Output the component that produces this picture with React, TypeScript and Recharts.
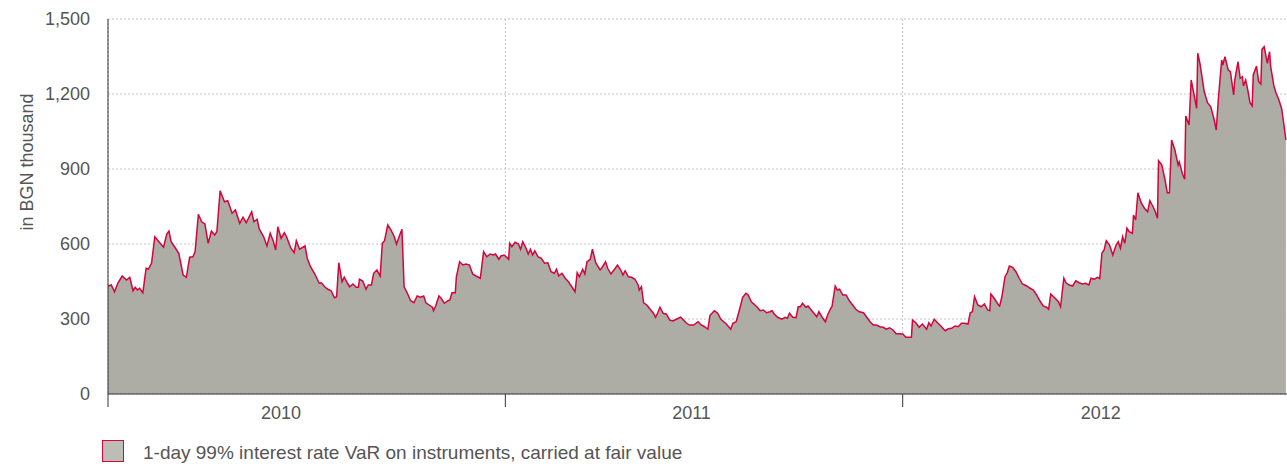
import { Area, AreaChart, CartesianGrid, Label, XAxis, YAxis } from "recharts";

// day offsets from 1 Jan 2010
const days = [
  0, 3, 6, 9, 13, 17, 20, 23, 25, 27, 29, 32, 35, 37, 40, 43, 46, 51, 54, 56, 58, 62, 65, 69, 72, 75, 78, 80,
  83, 86, 89, 92, 95, 98, 100, 103, 107, 110, 114, 117, 121, 124, 127, 129, 132, 134, 137, 139, 143, 146, 149,
  152, 154, 156, 159, 162, 164, 168, 171, 173, 176,
  179, 181, 183, 186, 190, 194, 196, 199, 202, 205, 208, 210, 212, 215, 217, 220, 222, 225, 228, 230, 231, 234,
  237, 239, 242, 244, 247, 250, 252, 254, 257, 260, 263, 265, 268, 270, 272, 275, 278, 281, 284, 287, 290, 292,
  295, 298, 299, 301, 304, 306, 309, 312, 314, 316, 319, 320, 323, 326, 329, 332, 335, 338, 342, 345, 348, 351,
  354, 356, 359, 361, 364, 368, 369,
  371, 374, 377, 379, 381, 384, 386, 388, 390, 392, 395, 398, 401, 404, 407, 410, 412, 414, 417, 420, 423, 426,
  429, 431, 433, 436, 438, 440, 443, 445, 448, 452, 454, 457, 459, 462, 466, 468, 471, 473, 475, 478, 481, 484,
  487, 488, 490, 492, 495, 498, 501, 503, 505, 507, 510, 513, 516, 519, 522, 526, 528, 531, 534, 538, 542, 545,
  548, 551,
  553, 557, 560, 563, 568, 572, 574, 577, 580, 583, 586, 588, 591, 596, 599, 602, 605, 608, 610, 612, 615, 619,
  622, 624, 626, 629, 632, 634, 636, 638, 641, 643, 646, 649, 651, 653, 656, 659, 661, 664, 665, 668, 670, 672,
  675, 678, 681, 684, 687, 690, 694, 697, 700, 703, 706, 709, 712, 715, 718, 721, 724, 727, 730, 733, 736,
  738, 739, 742, 745, 748, 752, 754, 756, 759, 762, 765, 769, 772, 775, 778, 781, 784, 787, 790, 792, 794, 796,
  799, 802, 805, 808, 810, 811, 814, 818, 819, 821, 824, 826, 828, 831, 834, 837, 840, 844, 847, 850, 853, 856,
  859, 862, 864, 866, 870, 873, 875, 878, 880, 883, 886, 889, 892, 895, 898, 901, 903, 906, 909,
  911, 913, 915, 917, 920, 923, 926, 928, 930, 932, 934, 936, 938, 941, 942, 944, 946, 949, 952, 955, 957, 960,
  962, 964, 965, 968, 971, 973, 975, 977, 980, 983, 984, 987, 989, 990, 993, 995, 998, 1000, 1001, 1003, 1007,
  1010, 1013, 1016, 1018, 1020, 1023, 1024, 1026, 1029, 1031, 1034, 1035, 1038, 1040, 1042, 1043, 1045, 1047,
  1049, 1051, 1052, 1055, 1057, 1059, 1060, 1062, 1065, 1067, 1068, 1071, 1073, 1075, 1078, 1080, 1082,
];

// 1-day 99% interest rate VaR, BGN thousand
const varValues = [
  432, 436, 409, 443, 472, 456, 467, 413, 427, 416, 423, 405, 503, 499, 523, 629, 613, 587, 640, 652, 609, 583,
  563, 476, 467, 547, 549, 569, 719, 689, 680, 603, 652, 636, 649, 813, 769, 773, 723, 736, 683, 707, 685, 703,
  729, 689, 699, 659, 629, 592, 643, 609, 576, 669, 623, 645, 629, 583, 565, 613, 579,
  587, 592, 543, 509, 480, 443, 445, 429, 419, 413, 385, 389, 525, 449, 467, 443, 429, 440, 427, 427, 459, 452,
  419, 436, 436, 483, 496, 472, 603, 613, 676, 656, 629, 600, 636, 659, 429, 403, 373, 365, 392, 387, 392, 365,
  356, 347, 333, 352, 392, 383, 363, 372, 376, 405, 405, 469, 529, 516, 520, 516, 480, 472, 463, 569, 549, 560,
  556, 560, 539, 552, 556, 539, 603,
  589, 607, 600, 579, 609, 583, 560, 579, 556, 573, 549, 543, 523, 525, 489, 483, 499, 472, 483, 463, 449, 429,
  409, 485, 469, 499, 480, 529, 539, 579, 525, 496, 507, 529, 503, 480, 503, 516, 496, 476, 493, 469, 467, 459,
  436, 416, 429, 365, 356, 339, 323, 307, 325, 347, 323, 319, 296, 292, 299, 307, 299, 285, 276, 276, 289, 276,
  269, 259,
  315, 333, 323, 299, 280, 259, 283, 289, 336, 387, 403, 396, 369, 349, 333, 336, 325, 329, 333, 320, 307, 299,
  307, 303, 323, 307, 305, 349, 349, 363, 347, 352, 336, 320, 309, 329, 307, 289, 316, 343, 349, 432, 416, 419,
  396, 396, 373, 356, 339, 329, 325, 307, 289, 276, 276, 269, 267, 259, 265, 256, 241, 241, 240, 227, 227,
  227, 296, 285, 267, 280, 259, 285, 272, 299, 285, 272, 253, 261, 263, 272, 269, 283, 283, 280, 325, 329, 389,
  356, 349, 360, 336, 333, 400, 383, 356, 352, 387, 469, 485, 512, 507, 489, 463, 440, 432, 423, 416, 396, 373,
  352, 347, 339, 400, 383, 369, 349, 463, 445, 436, 432, 453, 445, 440, 443, 436, 463, 459, 467,
  462, 563, 576, 613, 596, 556, 596, 609, 583, 629, 603, 663, 649, 643, 716, 696, 805, 765, 743, 729, 773, 749,
  729, 703, 933, 916, 856, 805, 805, 1016, 976, 916, 929, 880, 859, 1112, 1076, 1256, 1189, 1143, 1363, 1323, 1209,
  1165, 1149, 1099, 1056, 1183, 1336, 1316, 1349, 1296, 1289, 1196, 1256, 1329, 1263, 1269, 1232, 1256, 1216,
  1165, 1152, 1276, 1312, 1249, 1240, 1379, 1389, 1323, 1369, 1309, 1232, 1203, 1183, 1143, 1083, 1016,
];

const yearStarts = [0, 365, 730];
const yearLabels = ["2010", "2011", "2012"];
const yearLabelDays = [159, 536, 912];
const yTicks = [0, 300, 600, 900, 1200, 1500];

const rows = days.map((d, i) => ({ day: d, value: varValues[i] }));

const FONT = '"Liberation Sans", Arial, sans-serif';
const TEXT = "#555";
const AXIS = "#333";
const RED = "#d4043c";
const FILL = "#adada6";

function YearTick(props: any) {
  const { x, y, payload } = props;
  const li = yearLabelDays.indexOf(payload.value);
  if (li >= 0) {
    return (
      <text x={x} y={y + 25} textAnchor="middle" fontSize={18} fill={TEXT} fontFamily={FONT}>
        {yearLabels[li]}
      </text>
    );
  }
  return <line x1={x} y1={y} x2={x} y2={y + 13} stroke={AXIS} strokeWidth={1} />;
}

export default function App() {
  return (
    <div
      style={{
        position: "absolute",
        left: 0,
        top: 0,
        width: 1287,
        height: 467,
        background: "#fff",
        fontFamily: FONT,
      }}
    >
      <AreaChart width={1287} height={440} data={rows} margin={{ top: 19, right: 0, bottom: 0, left: 0 }}>
        <CartesianGrid
          stroke="#c4c4c4"
          strokeDasharray="2 2"
          verticalValues={yearStarts}
        />
        <XAxis
          dataKey="day"
          type="number"
          domain={[0, 1083]}
          ticks={[...yearStarts, ...yearLabelDays].sort((a, b) => a - b)}
          interval={0}
          height={46}
          tickSize={0}
          tickMargin={0}
          tickLine={false}
          axisLine={{ stroke: AXIS }}
          tick={<YearTick />}
        />
        <YAxis
          domain={[0, 1500]}
          ticks={yTicks}
          width={108}
          tickSize={0}
          tickMargin={18}
          tickLine={false}
          axisLine={{ stroke: AXIS }}
          tick={{ fontSize: 18, fill: TEXT, fontFamily: FONT }}
          tickFormatter={(v: number) => v.toLocaleString("en-US")}
        >
          <Label
            content={({ viewBox }: any) => (
              <text
                transform={`translate(${viewBox.x + 33}, ${viewBox.y + 143}) rotate(-90)`}
                textAnchor="middle"
                fontSize={18}
                fill={TEXT}
                fontFamily={FONT}
              >
                in BGN thousand
              </text>
            )}
          />
        </YAxis>
        <Area
          type="linear"
          dataKey="value"
          stroke={RED}
          strokeWidth={1.5}
          fill={FILL}
          fillOpacity={1}
          dot={false}
          activeDot={false}
          isAnimationActive={false}
        />
      </AreaChart>
      <div
        style={{
          position: "absolute",
          left: 102,
          top: 440,
          width: 20,
          height: 20,
          border: `1.5px solid ${RED}`,
          background: "#bdbdb8",
        }}
      />
      <div
        style={{
          position: "absolute",
          left: 143,
          top: 441,
          fontSize: 19,
          lineHeight: "24px",
          color: TEXT,
          whiteSpace: "nowrap",
        }}
      >
        1-day 99% interest rate VaR on instruments, carried at fair value
      </div>
    </div>
  );
}
